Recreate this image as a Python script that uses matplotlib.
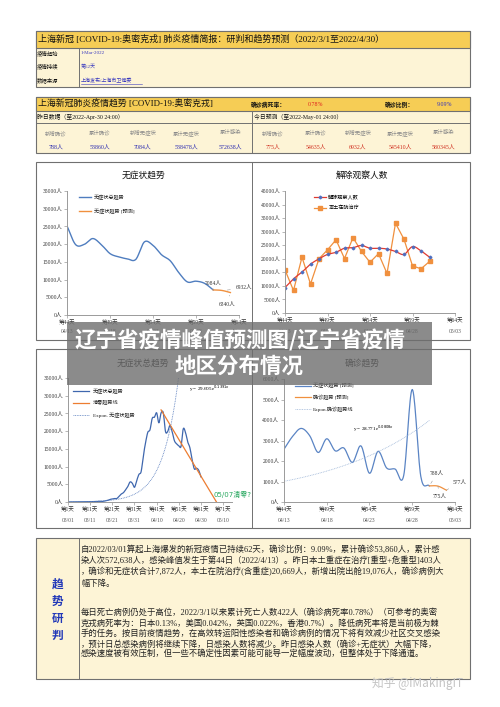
import numpy as np
import matplotlib
matplotlib.use('Agg')
import matplotlib.pyplot as plt
from matplotlib.patches import Rectangle
from matplotlib.transforms import blended_transform_factory

plt.rcParams['font.family'] = ['Liberation Serif', 'Noto Sans CJK SC', 'DejaVu Sans']
plt.rcParams['axes.unicode_minus'] = False

# ---------------- data ----------------
recent_days = list(range(44, 62))                     # 第44天 .. 第61天
asym_recent = [25146, 19872, 19923, 21582, 19831, 17332, 16407, 15861, 15698,
               20634, 19657, 16983, 15319, 11956, 9330, 9545, 8932, 7084]
fc_days = [61, 62, 63]
asym_fc = [7084, 6932, 6340]

release_obs = [9400, 12600, 15100, 18000, 20000, 21600, 22400, 23900, 24100,
               24900, 23900, 23900, 23600, 22700, 21600, 24500, 22900, 20600]
hospital = [15900, 8300, 20600, 10700, 20000, 23300, 27000, 20100, 27800,
            22700, 18700, 21900, 14600, 33100, 27200, 17400, 16300, 19000]

all_days = list(range(1, 62))                          # 第1天 .. 第61天
asym_all = [2, 5, 14, 16, 28, 45, 51, 62, 76, 64,
            78, 64, 128, 130, 197, 150, 203, 366, 492, 734,
            865, 977, 979, 1580, 2231, 2631, 3450, 4381, 5656, 5298, 4144,
            6051, 7788, 8581, 13086, 16766, 19660, 20398, 23624, 23937, 25173, 22348, 25141] + asym_recent
zero_days = [43, 68]
zero_vals = [26000, 0]
exp_asym = (29.605, 0.1391)

confirmed = [2573, 3200, 3590, 3238, 2417, 3084, 2494, 2634, 1931,
             2736, 1401, 2472, 1661, 1606, 1292, 5487, 1249, 788]
conf_fc = [788, 775, 577]
exp_conf = (28.771, 0.0808)

top_ticks = [44, 49, 54, 59, 64]
top_tick_labels = ['第44天', '第49天', '第54天', '第59天', '第64天']
top_dates = ['04/13', '04/18', '04/23', '04/28', '05/03']
all_ticks = [1, 11, 21, 31, 41, 51, 61, 71]
all_tick_labels = ['第1天', '第11天', '第21天', '第31天', '第41天', '第51天', '第61天', '第71天']
all_dates = ['03/01', '03/11', '03/21', '03/31', '04/10', '04/20', '04/30', '05/10']

left_labels = ['新增确诊', '累计确诊', '新增无症状', '累计无症状', '累计感染']
left_values = ['788人', '53860人', '7084人', '538478人', '572638人']
right_values = ['775人', '54635人', '6932人', '545410人', '580345人']

para1 = ['自2022/03/01算起上海爆发的新冠疫情已持续62天，确诊比例：9.09%，累计确诊53,860人，累计感',
         '染人次572,638人，感染峰值发生于第44日（2022/4/13）。昨日本土重症在治疗[重型+危重型]403人',
         '，确诊和无症状合计7,872人，本土在院治疗(含重症)20,669人，新增出院出舱19,076人，确诊病例大',
         '幅下降。']
para2 = ['每日死亡病例仍处于高位，2022/3/1以来累计死亡人数422人（确诊病死率0.78%）（可参考的奥密',
         '克戎病死率为：日本0.13%，美国0.042%，英国0.022%，香港0.7%）。降低病死率将是当前极为棘',
         '手的任务。按目前疫情趋势，在高效转运阳性感染者和确诊病例的情况下将有效减少社区交叉感染',
         '，预计日总感染病例将继续下降，日感染人数将减少。昨日感染人数（确诊+无症状）大幅下降，',
         '感染速度被有效压制，但一些不确定性因素可能可能导一定幅度波动，但整体处于下降通道。']

# ---------------- helpers ----------------
W, H = 500, 707
fig = plt.figure(figsize=(5, 7.07), dpi=100)
fig.patch.set_facecolor('white')
bg = fig.add_axes([0, 0, 1, 1], zorder=0)
bg.set_xlim(0, W); bg.set_ylim(H, 0); bg.axis('off')

GOLD = '#F6CD55'
CREAM = '#FDF4D6'
BORDER = '#707070'


def T(x, y, s, size, color='#111111', ha='left', va='center', ax=None, **kw):
    (ax or bg).text(x, y, s, fontsize=size, color=color, ha=ha, va=va, **kw)


def rect(x0, y0, x1, y1, fc, ec=BORDER, lw=0.8, z=1):
    bg.add_patch(Rectangle((x0, y0), x1 - x0, y1 - y0, facecolor=fc, edgecolor=ec, lw=lw, zorder=z))


def hline(x0, x1, y, lw=0.7, c=BORDER):
    bg.plot([x0, x1], [y, y], color=c, lw=lw, zorder=2)


def vline(x, y0, y1, lw=0.7, c=BORDER):
    bg.plot([x, x], [y0, y1], color=c, lw=lw, zorder=2)


def px_axes(l, t, r, b):
    ax = fig.add_axes([l / W, 1 - b / H, (r - l) / W, (b - t) / H], zorder=2)
    ax.patch.set_alpha(0)
    return ax


def smooth(x, y, n=16):
    P = np.column_stack([np.asarray(x, float), np.asarray(y, float)])
    P = np.vstack([2 * P[0] - P[1], P, 2 * P[-1] - P[-2]])
    t = np.linspace(0, 1, n, endpoint=False)[:, None]
    out = []
    for i in range(1, len(P) - 2):
        p0, p1, p2, p3 = P[i - 1], P[i], P[i + 1], P[i + 2]
        out.append(0.5 * (2 * p1 + (-p0 + p2) * t + (2 * p0 - 5 * p1 + 4 * p2 - p3) * t ** 2
                          + (-p0 + 3 * p1 - 3 * p2 + p3) * t ** 3))
    out.append(P[-2][None, :])
    o = np.vstack(out)
    return o[:, 0], o[:, 1]


def style_axes(ax, xlim, ylim, ystep, xticks, xlabels, dates, date_y):
    ax.set_xlim(*xlim); ax.set_ylim(*ylim)
    for s in ['top', 'right']:
        ax.spines[s].set_visible(False)
    for s in ['left', 'bottom']:
        ax.spines[s].set_color('#9a9a9a'); ax.spines[s].set_linewidth(0.7)
    yt = np.arange(ylim[0], ylim[1] + 1, ystep)
    ax.set_yticks(yt)
    ax.set_yticklabels([f'{int(v)}人' for v in yt], fontsize=4.0, color='#333333')
    ax.set_xticks(xticks)
    ax.set_xticklabels(xlabels, fontsize=4.0, color='#333333')
    ax.tick_params(axis='both', length=2, width=0.5, color='#9a9a9a', pad=1.5)
    tr = blended_transform_factory(ax.transData, ax.transAxes)
    for xv, d in zip(xticks, dates):
        ax.text(xv, date_y, d, transform=tr, fontsize=4.0, color='#555555', ha='center', va='center')


def manual_legend(ax, entries, x0, x1, ys, tx):
    for (kw, label), y in zip(entries, ys):
        ax.plot([x0, x1], [y, y], transform=ax.transAxes, clip_on=False, **kw)
        ax.text(tx, y, label, transform=ax.transAxes, fontsize=3.7, va='center', ha='left', color='#222222')


# ---------------- table 1 ----------------
rect(36, 31, 470, 87, CREAM)
rect(36, 31, 470, 48, GOLD)
vline(79, 48, 87)
T(38, 39.5, '上海新冠 [COVID-19:奥密克戎] 肺炎疫情简报：研判和趋势预测（2022/3/1至2022/4/30）', 6.5)
T(37, 53.5, '疫情起始', 3.9)
T(37, 66.5, '疫情持续', 3.9)
T(37, 80, '数据来源', 3.9)
T(81, 53.5, '1-Mar-2022', 3.6, color='#3a3abf')
T(81, 66.5, '第62天', 3.6, color='#3a3abf')
T(81, 80, '上海发布/上海市卫健委', 3.6, color='#3a3abf')
bg.plot([81, 142], [83.5, 83.5], color='#3a3abf', lw=0.4)

# ---------------- table 2 ----------------
rect(36, 97, 470, 153, CREAM)
rect(36, 97, 470, 111, GOLD)
hline(36, 470, 123)
vline(252, 111, 153)
T(38, 104.5, '上海新冠肺炎疫情趋势 [COVID-19:奥密克戎]', 6.4)
T(251, 104.5, '确诊病死率：', 4.2, weight='bold')
T(308, 104.5, '0.78%', 4.2, color='#e02020')
T(385, 104.5, '确诊比例：', 4.2, weight='bold')
T(437, 104.5, '9.09%', 4.2, color='#3030c0')
T(37, 117, '昨日数据（至2022-Apr-30 24:00）', 4.2)
T(254, 117, '今日预测（至2022-May-01 24:00）', 4.2)
for i in range(5):
    cx = 56 + i * 43.5
    T(cx, 133, left_labels[i], 3.9, color='#8a8a8a', ha='center')
    T(cx, 147, left_values[i], 4.2, color='#2b2bb0', ha='center')
    cx2 = 273 + i * 42.5
    T(cx2, 133, left_labels[i], 3.9, color='#8a8a8a', ha='center')
    T(cx2, 147, right_values[i], 4.2, color='#d03020', ha='center')

# ---------------- chart panels ----------------
rect(36, 162, 470, 340, 'white')
vline(252, 162, 340)
rect(36, 349, 470, 528, 'white')
vline(252, 349, 528)
T(143, 175, '无症状趋势', 6.3, ha='center')
T(362, 175, '解除观察人数', 6.3, ha='center')
T(143, 363, '无症状总趋势', 6.3, ha='center')
T(362, 363, '确诊趋势', 6.3, ha='center')

BLUE = '#4F7DBF'
ORANGE = '#F0903E'

# chart 1
ax1 = px_axes(67, 191, 239, 315)
style_axes(ax1, (44, 64), (0, 35000), 5000, top_ticks, top_tick_labels, top_dates, -0.135)
sx, sy = smooth(recent_days, asym_recent)
ax1.plot(sx, sy, color=BLUE, lw=1.0)
sx, sy = smooth(fc_days, asym_fc)
ax1.plot(sx, sy, color=ORANGE, lw=1.0)
manual_legend(ax1, [(dict(color=BLUE, lw=1.0), '无症状总趋势'),
                    (dict(color=ORANGE, lw=1.0), '无症状趋势 [预测]')],
              0.07, 0.14, [0.95, 0.84], 0.155)
ann = dict(fontsize=4.0, color='#333333', ha='center', va='center')
ax1.annotate('7084人', xy=(fc_days[0], asym_fc[0]), xytext=(61.0, 8900), textcoords='data',
             arrowprops=dict(arrowstyle='-', color='#999999', lw=0.4), **ann)
ax1.annotate('6932人', xy=(62.3, asym_fc[1]), xytext=(64.6, 7700), textcoords='data',
             arrowprops=dict(arrowstyle='-', color='#999999', lw=0.4), annotation_clip=False, **ann)
ax1.annotate('6340人', xy=(fc_days[2], asym_fc[2]), xytext=(62.6, 3100), textcoords='data',
             arrowprops=dict(arrowstyle='-', color='#999999', lw=0.4), **ann)

# chart 2
ax2 = px_axes(285, 191, 455, 313)
style_axes(ax2, (44, 64), (0, 45000), 5000, top_ticks, top_tick_labels, top_dates, -0.15)
ax2.plot(recent_days, hospital, color=ORANGE, lw=0.9, marker='s', ms=3.2, mec=ORANGE, mfc=ORANGE)
sx, sy = smooth(recent_days, release_obs)
ax2.plot(sx, sy, color='#E03A30', lw=0.9)
ax2.plot(recent_days, release_obs, ls='none', marker='D', ms=1.4, color='#4F6FBF')
ax2.plot([0.17, 0.24], [0.95, 0.95], transform=ax2.transAxes, color='#E03A30', lw=0.9, clip_on=False)
ax2.plot([0.205], [0.95], transform=ax2.transAxes, marker='D', ms=1.4, color='#4F6FBF', clip_on=False)
ax2.plot([0.17, 0.24], [0.86, 0.86], transform=ax2.transAxes, color=ORANGE, lw=0.9, clip_on=False)
ax2.plot([0.205], [0.86], transform=ax2.transAxes, marker='s', ms=3.2, color=ORANGE, clip_on=False)
ax2.text(0.255, 0.95, '解除观察人数', transform=ax2.transAxes, fontsize=3.7, va='center')
ax2.text(0.255, 0.86, '本土在院治疗', transform=ax2.transAxes, fontsize=3.7, va='center')

# chart 3
ax3 = px_axes(68, 378, 232, 502)
style_axes(ax3, (1, 75), (0, 35000), 5000, all_ticks, all_tick_labels, all_dates, -0.153)
sx, sy = smooth(all_days, asym_all, n=8)
ax3.plot(sx, sy, color='#3F67AE', lw=0.9)
ax3.plot(zero_days, zero_vals, color='#ED7D31', lw=0.9)
xe = np.linspace(all_days[0], all_days[-1], 400)
ax3.plot(xe, exp_asym[0] * np.exp(exp_asym[1] * xe), color='#5A7FBF', lw=0.6, ls=(0, (1, 1)))
manual_legend(ax3, [(dict(color='#3F67AE', lw=0.9), '无症状总趋势'),
                    (dict(color='#ED7D31', lw=0.9), '清零趋势线'),
                    (dict(color='#5A7FBF', lw=0.6, ls=(0, (1, 1))), 'Expon. 无症状趋势')],
              0.03, 0.13, [0.895, 0.80, 0.70], 0.15)
ax3.text(0.74, 0.91, 'y = 29.605e$^{0.1391x}$', transform=ax3.transAxes, fontsize=3.7, ha='left', va='center')
ax3.text(0.89, 0.06, '05/07清零?', transform=ax3.transAxes, fontsize=5.0, color='#27A85F',
         ha='left', va='center', family=['DejaVu Sans', 'Noto Sans CJK SC'])

# chart 4
ax4 = px_axes(284, 379, 455, 502)
style_axes(ax4, (44, 64), (0, 6000), 1000, top_ticks, top_tick_labels, top_dates, -0.153)
sx, sy = smooth(recent_days, confirmed)
ax4.plot(sx, sy, color='#5A84C4', lw=0.9)
sx, sy = smooth(fc_days, conf_fc)
ax4.plot(sx, sy, color=ORANGE, lw=0.9)
xe = np.linspace(recent_days[0], recent_days[-1], 200)
ax4.plot(xe, exp_conf[0] * np.exp(exp_conf[1] * xe), color='#9FB7D8', lw=0.6, ls=(0, (1, 1)))
manual_legend(ax4, [(dict(color='#5A84C4', lw=0.9), '无症状趋势 [预测]'),
                    (dict(color=ORANGE, lw=0.9), '确诊趋势 [预测]'),
                    (dict(color='#9FB7D8', lw=0.6, ls=(0, (1, 1))), 'Expon.确诊趋势线')],
              0.065, 0.155, [0.945, 0.85, 0.755], 0.17)
ax4.text(0.405, 0.595, 'y = 28.771e$^{0.0808x}$', transform=ax4.transAxes, fontsize=3.7, ha='left', va='center')
ax4.annotate('788人', xy=(fc_days[0], conf_fc[0]), xytext=(61.9, 1400), textcoords='data',
             arrowprops=dict(arrowstyle='-', color='#999999', lw=0.4), **ann)
ax4.annotate('775人', xy=(fc_days[1], conf_fc[1]), xytext=(62.2, 270), textcoords='data',
             arrowprops=dict(arrowstyle='-', color='#999999', lw=0.4), **ann)
ax4.annotate('577人', xy=(fc_days[2], conf_fc[2]), xytext=(64.5, 980), textcoords='data',
             arrowprops=dict(arrowstyle='-', color='#999999', lw=0.4), annotation_clip=False, **ann)

# ---------------- bottom analysis box ----------------
rect(36, 538, 470, 679, CREAM)
vline(79, 538, 679)
for ch, y in zip('趋势研判', [585, 602, 619, 636]):
    T(57.5, y, ch, 8.4, color='#2238B8', ha='center', weight='bold')
for s, y in zip(para1, [549, 560, 572, 584]):
    T(81, y, s, 6.0, color='#222222')
for s, y in zip(para2, [613, 624, 634, 644, 654]):
    T(81, y, s, 6.0, color='#222222')

T(372, 684, '知乎 @iMakingIT', 8.5, color='#c4c4c4', family=['Noto Sans CJK SC', 'DejaVu Sans'])

# ---------------- banner overlay ----------------
ov = fig.add_axes([0, 0, 1, 1], zorder=10)
ov.set_xlim(0, W); ov.set_ylim(H, 0); ov.axis('off'); ov.patch.set_alpha(0)
ov.add_patch(Rectangle((67, 322), 365, 63, facecolor='#6e6e6e', alpha=0.8, edgecolor='none'))
ov.text(240, 340, '辽宁省疫情峰值预测图/辽宁省疫情', fontsize=15.5, color='white', weight='bold',
        ha='center', va='center', family=['Noto Sans CJK SC', 'DejaVu Sans'])
ov.text(239, 366, '地区分布情况', fontsize=15.5, color='white', weight='bold',
        ha='center', va='center', family=['Noto Sans CJK SC', 'DejaVu Sans'])

fig.savefig('out.png', dpi=100)
